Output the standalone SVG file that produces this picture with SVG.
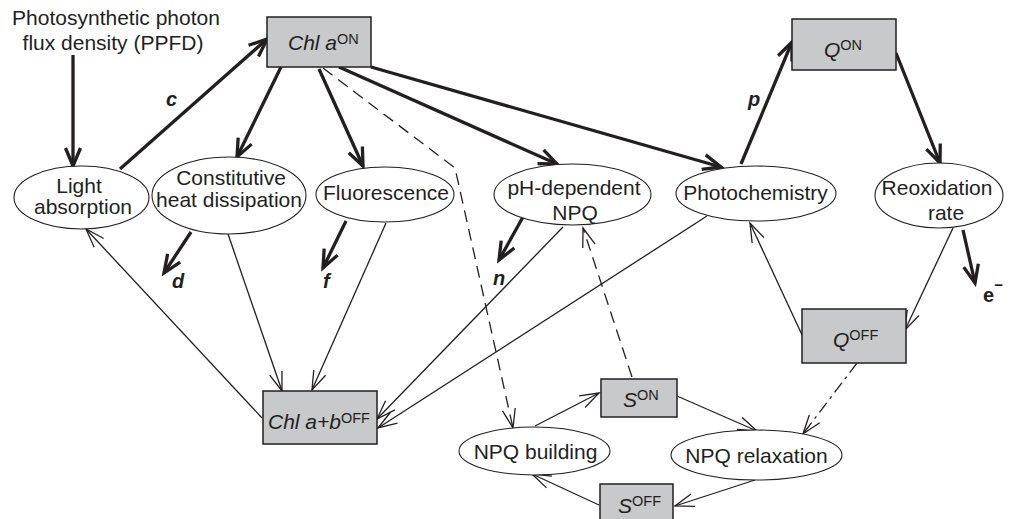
<svg xmlns="http://www.w3.org/2000/svg" width="1011" height="519" viewBox="0 0 1011 519">
<style>
.box{fill:#c8c9cb;stroke:#231f20;stroke-width:1.5}
.ell{fill:#fff;stroke:#231f20;stroke-width:1.1}
.t{font-family:"Liberation Sans",Arial,sans-serif;font-size:21px;fill:#231f20}
.m{text-anchor:middle}
.it{font-style:italic}
.sup{font-size:14.5px;font-style:normal}
.lab{font-family:"Liberation Sans",Arial,sans-serif;font-size:20px;font-weight:bold;font-style:italic;fill:#231f20}
.thk{fill:none;stroke:#231f20;stroke-width:3.3;marker-end:url(#ahT)}
.thn{fill:none;stroke:#231f20;stroke-width:1.3;marker-end:url(#ahN)}
.dsh{fill:none;stroke:#231f20;stroke-width:1.3;stroke-dasharray:12 7;marker-end:url(#ahN)}
.dd{fill:none;stroke:#231f20;stroke-width:1.3;stroke-dasharray:12 5 3 5;marker-end:url(#ahN)}
</style>
<defs>
<marker id="ahT" viewBox="-22 -10 26 20" refX="0" refY="0" markerWidth="26" markerHeight="20" markerUnits="userSpaceOnUse" orient="auto">
<path d="M-18,-7.5 L0,0 L-18,7.5" fill="none" stroke="#231f20" stroke-width="3.3"/>
</marker>
<marker id="ahN" viewBox="-22 -10 26 20" refX="0" refY="0" markerWidth="26" markerHeight="20" markerUnits="userSpaceOnUse" orient="auto">
<path d="M-19,-6.5 L0,0 L-19,6.5" fill="none" stroke="#231f20" stroke-width="1.3"/>
</marker>
</defs>
<rect width="1011" height="519" fill="#fff"/>

<g id="connectors">
<path class="thk" d="M73,55 L73,166"/>
<path class="thk" d="M120,169 L267,39"/>
<path class="thk" d="M281,67 L237,157"/>
<path class="thk" d="M319,69 L363,166"/>
<path class="thk" d="M339,67 L557,164"/>
<path class="thk" d="M371,67 L721,167"/>
<path class="thk" d="M741,164 L792,42"/>
<path class="thk" d="M896,53 L940,163"/>
<path class="thk" d="M191,232 L164,273"/>
<path class="thk" d="M346,221 L323,268"/>
<path class="thk" d="M523,217 L499,260"/>
<path class="thk" d="M963,230 L975,283"/>
<path class="thn" d="M262,418 L86,229"/>
<path class="thn" d="M228,234 L282,391"/>
<path class="thn" d="M386,223 L312,390"/>
<path class="thn" d="M563,227 L377,419"/>
<path class="thn" d="M707,216 L378,428"/>
<path class="thn" d="M803,337 L750,223"/>
<path class="thn" d="M953,228 L905,330"/>
<path class="thn" d="M535,426 L599,393"/>
<path class="thn" d="M677,396 L757,431"/>
<path class="thn" d="M755,480 L675,506"/>
<path class="thn" d="M599,505 L532,474"/>
<path class="dsh" d="M323,68 L455,168 L513,428"/>
<path class="dsh" d="M632,377 L583,228"/>
<path class="dd" d="M857,363 L803,434"/>
</g>

<g id="ppfd">
<text class="t m" x="116" y="25">Photosynthetic photon</text>
<text class="t m" x="113" y="50">flux density (PPFD)</text>
</g>

<g id="chlaon">
<rect class="box" x="267" y="17" width="104" height="50"/>
<text class="t it" x="288" y="50">Chl a<tspan class="sup" dy="-6">ON</tspan></text>
</g>

<g id="qon">
<rect class="box" x="792" y="19" width="104" height="51"/>
<text class="t it" x="824" y="57">Q<tspan class="sup" dy="-7">ON</tspan></text>
</g>

<g id="lightabs">
<ellipse class="ell" cx="81.5" cy="197.5" rx="67.5" ry="31.5"/>
<text class="t m" x="79" y="193">Light</text>
<text class="t m" x="83" y="214">absorption</text>
</g>

<g id="constitutive">
<ellipse class="ell" cx="229" cy="195.5" rx="77" ry="38.5"/>
<text class="t m" x="231" y="185">Constitutive</text>
<text class="t m" x="229" y="207">heat dissipation</text>
</g>

<g id="fluorescence">
<ellipse class="ell" cx="385" cy="194.5" rx="69" ry="27.5"/>
<text class="t m" x="386" y="200">Fluorescence</text>
</g>

<g id="phnpq">
<ellipse class="ell" cx="572.5" cy="194.5" rx="78.5" ry="30.5"/>
<text class="t m" x="574" y="195">pH-dependent</text>
<text class="t m" x="575" y="220">NPQ</text>
</g>

<g id="photochemistry">
<ellipse class="ell" cx="756" cy="193.5" rx="80" ry="27.5"/>
<text class="t m" x="755.5" y="200">Photochemistry</text>
</g>

<g id="reoxidation">
<ellipse class="ell" cx="939" cy="195.5" rx="64" ry="32.5"/>
<text class="t m" x="937" y="195">Reoxidation</text>
<text class="t m" x="946" y="220">rate</text>
</g>

<g id="qoff">
<rect class="box" x="802" y="309" width="104" height="54"/>
<text class="t it" x="833" y="347">Q<tspan class="sup" dy="-7">OFF</tspan></text>
</g>

<g id="chlaboff">
<rect class="box" x="263" y="391" width="114" height="53"/>
<text class="t it" x="268" y="429">Chl a+b<tspan class="sup" dy="-6">OFF</tspan></text>
</g>

<g id="son">
<rect class="box" x="601" y="379" width="76" height="38"/>
<text class="t it" x="623" y="407">S<tspan class="sup" dy="-7">ON</tspan></text>
</g>

<g id="npqbuilding">
<ellipse class="ell" cx="534.5" cy="451" rx="75.5" ry="24"/>
<text class="t m" x="535.5" y="459">NPQ building</text>
</g>

<g id="npqrelax">
<ellipse class="ell" cx="756.5" cy="455" rx="85.5" ry="25"/>
<text class="t m" x="756.5" y="463">NPQ relaxation</text>
</g>

<g id="soff">
<rect class="box" x="600" y="484" width="73" height="36"/>
<text class="t it" x="618" y="513">S<tspan class="sup" dy="-7">OFF</tspan></text>
</g>

<g id="labels">
<text class="lab" x="166" y="106">c</text>
<text class="lab" x="172" y="288">d</text>
<text class="lab" x="323" y="288">f</text>
<text class="lab" x="493" y="285">n</text>
<text class="lab" x="748" y="106">p</text>
<text class="lab" x="983" y="302" style="font-style:normal">e<tspan font-size="15" dy="-12">−</tspan></text>
</g>
</svg>
